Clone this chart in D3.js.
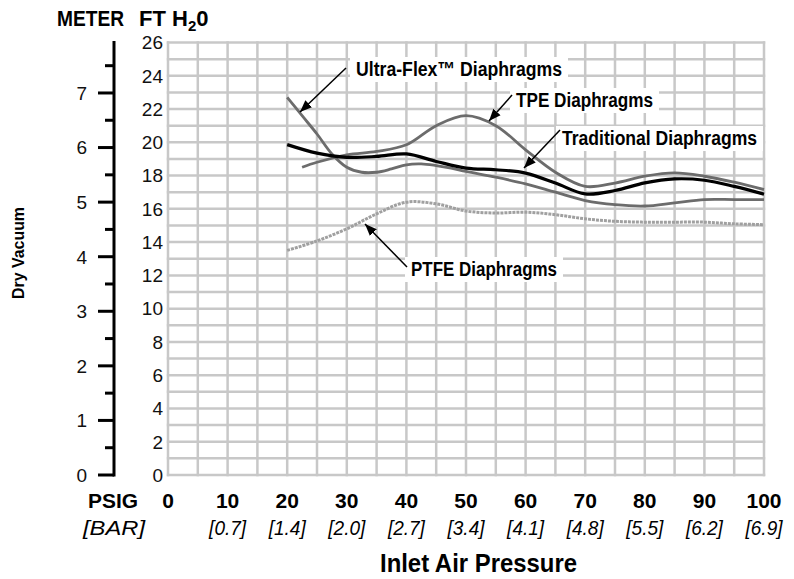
<!DOCTYPE html>
<html>
<head>
<meta charset="utf-8">
<script src="https://cdn.jsdelivr.net/npm/d3@7"></script>
<style>
  html, body { margin: 0; padding: 0; background: #fff; }
  svg { display: block; }
  text { font-family: "Liberation Sans Narrow", "Arial Narrow", "Liberation Sans", Arial, sans-serif; }
</style>
</head>
<body>
<svg id="chart" width="794" height="579"></svg>
<script>
// ---------- data ----------
const psiTicks = [0, 10, 20, 30, 40, 50, 60, 70, 80, 90, 100];
const barLabels = ["", "[0.7]", "[1.4]", "[2.0]", "[2.7]", "[3.4]", "[4.1]", "[4.8]", "[5.5]", "[6.2]", "[6.9]"];
const ftTicks = [0, 2, 4, 6, 8, 10, 12, 14, 16, 18, 20, 22, 24, 26];
const meterTicks = [0, 1, 2, 3, 4, 5, 6, 7];
const meterMinor = [0.5, 1.5, 2.5, 3.5, 4.5, 5.5, 6.5, 7.5];

const ultraPsi = [20, 22.5, 25, 27.5, 30, 32.5, 35, 37.5, 40, 42.5, 45, 47.5, 50, 55, 60, 65, 70, 75, 80, 85, 90, 95, 100];
const ultraFt  = [22.7, 21.6, 20.5, 19.3, 18.5, 18.2, 18.2, 18.4, 18.65, 18.7, 18.6, 18.45, 18.25, 17.9, 17.5, 17.0, 16.5, 16.25, 16.17, 16.36, 16.56, 16.56, 16.56];

const tradPsi = [20, 25, 30, 35, 40, 45, 50, 55, 60, 65, 70, 75, 80, 85, 90, 95, 100];
const tradFt  = [19.86, 19.35, 19.1, 19.15, 19.3, 18.85, 18.45, 18.35, 18.15, 17.55, 16.9, 17.1, 17.56, 17.8, 17.72, 17.35, 16.88];

const tpePsi = [22.5, 25, 30, 35, 40, 45, 50, 55, 60, 65, 70, 75, 80, 85, 90, 95, 100];
const tpeFt  = [18.5, 18.8, 19.25, 19.45, 19.85, 21.0, 21.6, 21.0, 19.55, 18.2, 17.35, 17.55, 17.96, 18.16, 17.96, 17.6, 17.16];

const ptfePsi = [20, 25, 30, 35, 40, 45, 50, 55, 60, 65, 70, 75, 80, 85, 90, 95, 100];
const ptfeFt  = [13.5, 14.07, 14.8, 15.7, 16.4, 16.3, 15.87, 15.75, 15.8, 15.65, 15.4, 15.25, 15.2, 15.2, 15.2, 15.1, 15.05];

const seriesNames = ["Ultra-Flex™ Diaphragms", "TPE Diaphragms", "Traditional Diaphragms", "PTFE Diaphragms"];

// ---------- layout ----------
const svg = d3.select("#chart");
const x = d3.scaleLinear().domain([0, 100]).range([168, 764]);
const yFt = d3.scaleLinear().domain([0, 26]).range([475, 42.5]);
const FT_PER_M = 3.2808;
const yM = d3.scaleLinear().domain([0, 26 / FT_PER_M]).range([475, 42.5]);

// grid
const grid = svg.append("g").attr("stroke", "#c8c8c8").attr("stroke-width", 2.5);
grid.selectAll("line.v").data(d3.range(0, 101, 5)).join("line")
  .attr("x1", d => x(d)).attr("x2", d => x(d))
  .attr("y1", yFt(0) + 1.2).attr("y2", yFt(26) - 1.2);
grid.selectAll("line.h").data(d3.range(0, 27, 1)).join("line")
  .attr("x1", x(0) - 1.2).attr("x2", x(100) + 1.2)
  .attr("y1", d => yFt(d)).attr("y2", d => yFt(d));

// ft tick labels
svg.append("g").selectAll("text").data(ftTicks).join("text")
  .attr("x", 163).attr("y", d => yFt(d))
  .attr("dy", "0.36em")
  .attr("text-anchor", "end")
  .attr("font-size", 19)
  .attr("fill", "#111")
  .text(d => d);

// meter axis
const mAxis = svg.append("g").attr("stroke", "#000").attr("stroke-width", 3);
mAxis.append("line").attr("x1", 114).attr("x2", 114).attr("y1", yM(26 / FT_PER_M) - 1.5).attr("y2", yM(0) + 1.5);
mAxis.selectAll("line.maj").data(meterTicks).join("line")
  .attr("x1", 98).attr("x2", 114).attr("y1", d => yM(d)).attr("y2", d => yM(d));
mAxis.selectAll("line.min").data(meterMinor).join("line")
  .attr("x1", 105).attr("x2", 114).attr("y1", d => yM(d)).attr("y2", d => yM(d));
svg.append("g").selectAll("text").data(meterTicks).join("text")
  .attr("x", 87).attr("y", d => yM(d))
  .attr("dy", "0.36em").attr("text-anchor", "end")
  .attr("font-size", 19).attr("fill", "#111")
  .text(d => d);

// headers
svg.append("text").attr("x", 57).attr("y", 26).attr("font-size", 22).attr("font-weight", "bold")
  .attr("textLength", 67).attr("lengthAdjust", "spacingAndGlyphs").text("METER");
const fth = svg.append("text").attr("x", 139).attr("y", 26).attr("font-size", 22).attr("font-weight", "bold");
fth.append("tspan").text("FT H");
fth.append("tspan").attr("font-size", 15).attr("dy", 5).text("2");
fth.append("tspan").attr("dy", -5).text("0");

// x tick labels
svg.append("g").selectAll("text").data(psiTicks).join("text")
  .attr("x", d => x(d)).attr("y", 508)
  .attr("text-anchor", "middle").attr("font-size", 21).attr("font-weight", "bold")
  .text(d => d);
svg.append("g").selectAll("text").data(psiTicks.filter((d, i) => barLabels[i] !== "")).join("text")
  .attr("x", d => x(d)).attr("y", 535)
  .attr("text-anchor", "middle").attr("font-size", 21).attr("font-style", "italic")
  .attr("textLength", 37).attr("lengthAdjust", "spacingAndGlyphs")
  .text(d => barLabels[psiTicks.indexOf(d)]);
svg.append("text").attr("x", 88).attr("y", 508).attr("font-size", 21).attr("font-weight", "bold")
  .attr("textLength", 50).attr("lengthAdjust", "spacingAndGlyphs").text("PSIG");
svg.append("text").attr("x", 83).attr("y", 535).attr("font-size", 21).attr("font-style", "italic")
  .attr("textLength", 62).attr("lengthAdjust", "spacingAndGlyphs").text("[BAR]");

// axis titles
svg.append("text").attr("x", 380).attr("y", 572).attr("font-size", 26).attr("font-weight", "bold")
  .attr("textLength", 197).attr("lengthAdjust", "spacingAndGlyphs").text("Inlet Air Pressure");
svg.append("text").attr("transform", "translate(24,253) rotate(-90)")
  .attr("text-anchor", "middle").attr("font-size", 17).attr("font-weight", "bold")
  .attr("textLength", 92).attr("lengthAdjust", "spacingAndGlyphs")
  .text("Dry Vacuum");

// ---------- lines ----------
const line = d3.line().x(d => x(d[0])).y(d => yFt(d[1])).curve(d3.curveCatmullRom.alpha(0.5));
const series = [
  { xs: ptfePsi, ys: ptfeFt, color: "#a0a0a0", w: 3, dash: "3,1" },
  { xs: ultraPsi, ys: ultraFt, color: "#6c6c6c", w: 2.8, dash: null },
  { xs: tpePsi, ys: tpeFt, color: "#6c6c6c", w: 2.8, dash: null },
  { xs: tradPsi, ys: tradFt, color: "#000000", w: 3.2, dash: null }
];
svg.append("g").selectAll("path").data(series).join("path")
  .attr("fill", "none")
  .attr("stroke", d => d.color)
  .attr("stroke-width", d => d.w)
  .attr("stroke-dasharray", d => d.dash)
  .attr("stroke-linejoin", "round")
  .attr("d", d => line(d.xs.map((v, i) => [v, d.ys[i]])));

// ---------- annotations ----------
const defs = svg.append("defs");
defs.append("marker").attr("id", "arr").attr("viewBox", "0 0 10 10")
  .attr("refX", 10).attr("refY", 5).attr("markerWidth", 12).attr("markerHeight", 12)
  .attr("markerUnits", "userSpaceOnUse").attr("orient", "auto")
  .append("path").attr("d", "M0,1 L10,5 L0,9 Z").attr("fill", "#000");

const notes = [
  { text: seriesNames[0], tx: 356, ty: 76, tw: 206, from: [346, 68], to: [300, 112] },
  { text: seriesNames[1], tx: 516, ty: 107, tw: 137, from: [512, 95], to: [489, 121] },
  { text: seriesNames[2], tx: 562, ty: 145, tw: 195, from: [560, 130], to: [524, 168] },
  { text: seriesNames[3], tx: 411, ty: 276, tw: 146, from: [407, 267], to: [365, 224] }
];
const ng = svg.append("g");
notes.forEach(n => {
  ng.append("rect").attr("x", n.tx - 6).attr("y", n.ty - 19).attr("width", n.tw + 12).attr("height", 25).attr("fill", "#fff");
});
notes.forEach(n => {
  ng.append("text").attr("x", n.tx).attr("y", n.ty).attr("font-size", 20).attr("font-weight", "bold")
    .attr("textLength", n.tw).attr("lengthAdjust", "spacingAndGlyphs").text(n.text);
  ng.append("line").attr("x1", n.from[0]).attr("y1", n.from[1]).attr("x2", n.to[0]).attr("y2", n.to[1])
    .attr("stroke", "#000").attr("stroke-width", 1.5).attr("marker-end", "url(#arr)");
});
</script>
</body>
</html>
